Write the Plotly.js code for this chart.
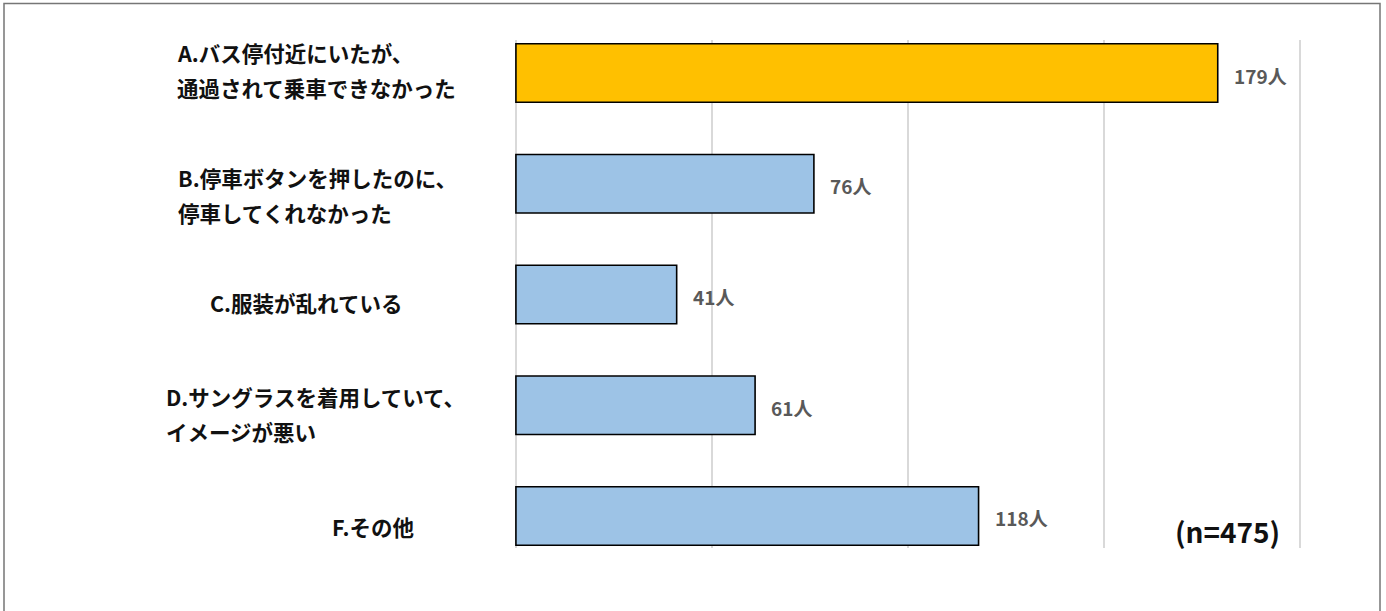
<!DOCTYPE html>
<html>
<head>
<meta charset="utf-8">
<script src="https://cdn.plot.ly/plotly-3.0.1.min.js"></script>
<style>
  html, body { margin: 0; padding: 0; background: #ffffff; }
  #chart { width: 1386px; height: 611px; }
</style>
</head>
<body>
<div id="chart"></div>
<script>
// ---- data ----
const categories = [
  'A.バス停付近にいたが、<br>通過されて乗車できなかった',
  'B.停車ボタンを押したのに、<br>停車してくれなかった',
  'C.服装が乱れている',
  'D.サングラスを着用していて、<br>イメージが悪い',
  'F.その他'
];
const counts = [179, 76, 41, 61, 118];
const unitSuffix = '人';
const sampleNote = '(n=475)';

// ---- styling ----
const barColors = ['#FFC000', '#9DC3E6', '#9DC3E6', '#9DC3E6', '#9DC3E6'];
const labelLeft = [175, 176, 208, 164, 330];      // px from left edge of page
const labelShift = [-3.5, 11.5, 8, 9, 11];        // block offset vs bar centre (px, down)
const lineGap = 35;
const JP = 'Noto Sans CJK JP';

const W = 1386, H = 611;
const M = { l: 512, r: 82, t: 40, b: 63 };

const annotations = [];
categories.forEach((cat, i) => {
  const lines = cat.split('<br>');
  const n = lines.length;
  lines.forEach((ln, j) => {
    const off = labelShift[i] + (j - (n - 1) / 2) * lineGap;
    annotations.push({
      xref: 'paper', yref: 'y', x: 0, y: cat,
      xshift: labelLeft[i] - M.l, yshift: -off,
      xanchor: 'left', yanchor: 'middle',
      text: ln, showarrow: false,
      font: { family: JP, size: 21.5, color: '#111111', weight: 'bold' }
    });
  });
  annotations.push({
    xref: 'x', yref: 'y', x: counts[i], y: cat,
    xshift: 14, yshift: -2, xanchor: 'left', yanchor: 'middle',
    text: counts[i] + unitSuffix, showarrow: false,
    font: { family: JP, size: 19, color: '#595959', weight: 'bold' }
  });
});
const pw = W - M.l - M.r, ph = H - M.t - M.b;
annotations.push({
  xref: 'paper', yref: 'paper',
  x: (1227 - M.l) / pw, y: (H - M.b - 531) / ph,
  xanchor: 'center', yanchor: 'middle',
  text: sampleNote, showarrow: false,
  font: { family: JP, size: 28, color: '#111111', weight: 'bold' }
});

const trace = {
  type: 'bar', orientation: 'h',
  x: counts, y: categories,
  width: 0.528,
  marker: { color: barColors, line: { color: '#000000', width: 1.6 } },
  hoverinfo: 'skip'
};

const layout = {
  width: W, height: H,
  margin: M,
  paper_bgcolor: '#ffffff', plot_bgcolor: '#ffffff',
  showlegend: false,
  xaxis: {
    range: [-1, 201], dtick: 50, tick0: 0,
    showgrid: true, gridcolor: '#d9d9d9', gridwidth: 2,
    zeroline: false, showline: false, showticklabels: false, ticks: '',
    fixedrange: true
  },
  yaxis: {
    type: 'category',
    range: [4.289, -0.298],
    showgrid: false, zeroline: false, showline: false,
    showticklabels: false, ticks: '', fixedrange: true
  },
  annotations: annotations,
  shapes: [{
    type: 'path', xref: 'paper', yref: 'paper',
    path: 'M ' + ((4 - M.l) / pw) + ' ' + ((H - M.b - 640) / ph) +
          ' L ' + ((4 - M.l) / pw) + ' ' + ((H - M.b - 3.5) / ph) +
          ' L ' + ((1380 - M.l) / pw) + ' ' + ((H - M.b - 3.5) / ph) +
          ' L ' + ((1380 - M.l) / pw) + ' ' + ((H - M.b - 640) / ph),
    line: { color: '#767676', width: 1.5 }
  }]
};

Plotly.newPlot('chart', [trace], layout, { staticPlot: true, displayModeBar: false });
</script>
</body>
</html>
